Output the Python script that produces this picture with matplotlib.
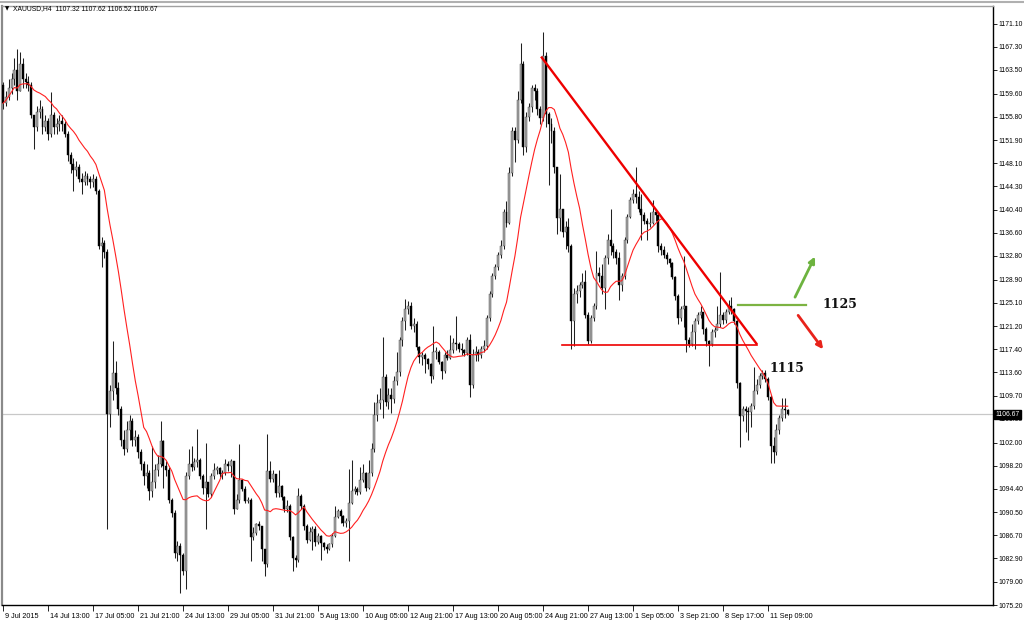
import matplotlib
matplotlib.use("Agg")
import matplotlib.pyplot as plt
import matplotlib.transforms as mtransforms
import numpy as np
import pandas as pd

# ---------------- data (XAUUSD H4) ----------------
first_open = 1161.0
closes = [
    1158.0, 1159.0, 1160.5, 1162.0, 1163.5, 1160.0, 1164.5, 1162.0, 1161.5, 1161.0,
    1156.0, 1154.0, 1156.5, 1157.0, 1154.0, 1155.0, 1153.0, 1156.0, 1154.0, 1154.5,
    1155.0, 1154.5, 1153.0, 1149.5, 1148.0, 1147.0, 1147.5, 1145.5, 1145.0, 1146.0,
    1145.5, 1145.0, 1145.5, 1143.5, 1134.5, 1135.0, 1133.5, 1106.7,
    1110.5, 1113.5, 1111.0, 1107.5, 1102.5, 1101.0, 1104.0, 1105.5, 1102.5, 1103.0,
    1100.5, 1098.5, 1096.5, 1097.0, 1094.0, 1095.5, 1097.5, 1098.5,
    1102.2, 1098.2, 1097.5, 1092.6, 1090.4, 1083.8, 1085.0, 1083.5, 1080.8, 1096.5,
    1098.5, 1098.0, 1098.8, 1099.2, 1096.5, 1094.5, 1095.5, 1093.5, 1096.5, 1097.5,
    1097.8, 1096.8, 1097.0, 1098.5, 1098.2, 1098.9, 1091.0, 1092.5, 1095.8, 1094.3,
    1092.3, 1092.6, 1086.4, 1087.0, 1088.5, 1088.2, 1084.4, 1082.0, 1097.3, 1096.0,
    1096.8, 1093.7, 1094.9, 1093.0, 1091.0, 1091.6, 1086.4, 1083.0, 1082.7, 1093.2,
    1091.5, 1088.2, 1086.0, 1087.2, 1087.8, 1085.6, 1086.6, 1085.5, 1084.7, 1084.5,
    1085.2, 1086.6, 1089.8, 1090.7, 1089.9, 1088.8, 1089.0, 1092.0, 1094.0, 1094.3,
    1093.8, 1095.9, 1097.0, 1094.5, 1097.0,
    1101.0, 1106.5, 1108.5, 1109.0, 1112.8, 1108.7, 1109.8, 1109.2, 1112.2, 1113.6,
    1119.0, 1122.0, 1124.0, 1124.5, 1121.3, 1121.5, 1117.7, 1116.2, 1116.5, 1115.8,
    1115.0, 1113.0, 1116.9, 1117.0, 1115.3, 1113.8, 1116.4, 1116.0, 1117.3, 1118.5,
    1118.3, 1117.5, 1117.2, 1116.8, 1119.0,
    1111.5, 1116.5, 1117.0, 1116.5, 1117.5, 1118.0, 1122.5, 1126.5, 1129.5, 1131.0,
    1133.0, 1134.5, 1140.0, 1138.3, 1146.5, 1153.5, 1152.0, 1158.5, 1164.5, 1150.7,
    1155.8, 1157.3, 1160.6, 1160.0, 1157.0, 1155.5, 1165.8, 1156.3, 1154.5, 1153.5,
    1147.5, 1139.0, 1140.5, 1136.8,
    1137.5, 1134.5, 1122.1, 1126.5, 1127.0, 1128.0, 1128.5, 1123.0, 1118.8, 1122.5,
    1124.5, 1130.0, 1129.5, 1127.5, 1132.5, 1135.5, 1134.5, 1133.5, 1132.5, 1128.0,
    1129.5, 1135.5, 1139.2, 1142.0, 1143.0, 1142.5, 1140.5, 1139.5, 1138.5, 1138.0,
    1138.3, 1140.0, 1139.5, 1134.5, 1133.8, 1133.0, 1132.3, 1131.6, 1129.3, 1126.2,
    1122.5, 1124.0, 1124.5, 1119.0, 1118.3, 1120.3, 1122.0, 1123.0, 1123.5, 1120.8,
    1118.7, 1118.3, 1120.3, 1120.6, 1121.5, 1123.0, 1122.3, 1123.5, 1124.5, 1124.0,
    1122.1, 1111.8, 1106.4, 1107.5, 1107.2, 1107.0, 1108.0, 1110.5, 1111.5, 1113.0,
    1113.5, 1112.5, 1109.6, 1101.5, 1100.5, 1104.0, 1106.0, 1107.5, 1107.32, 1106.67,
]
highs = [
    1161.5, 1160.0, 1162.0, 1163.0, 1165.5, 1167.0, 1166.5, 1165.5, 1163.0, 1162.5,
    1161.5, 1156.0, 1157.5, 1158.5, 1157.5, 1156.0, 1155.5, 1159.8, 1156.5, 1155.5,
    1156.0, 1156.0, 1155.0, 1153.5, 1150.0, 1149.0, 1148.5, 1148.0, 1146.5, 1146.8,
    1146.5, 1146.0, 1146.3, 1146.0, 1143.8, 1136.0, 1135.5, 1134.0,
    1111.5, 1118.7, 1115.5, 1112.0, 1108.0, 1104.0, 1105.5, 1106.5, 1106.0, 1104.0,
    1103.5, 1101.0, 1099.0, 1098.5, 1097.5, 1101.5, 1098.5, 1100.0,
    1105.5, 1102.5, 1099.0, 1098.0, 1092.8, 1090.8, 1085.8, 1085.5, 1083.8, 1097.2,
    1100.9, 1101.4, 1099.5, 1104.2, 1099.5, 1096.8, 1102.0, 1095.5, 1097.0, 1098.7,
    1098.2, 1098.0, 1097.5, 1099.3, 1099.0, 1099.3, 1099.0, 1093.5, 1101.7, 1096.0,
    1094.8, 1093.0, 1092.8, 1088.0, 1088.8, 1089.0, 1088.3, 1084.5, 1103.4, 1098.9,
    1097.5, 1096.9, 1097.5, 1095.0, 1093.2, 1092.5, 1091.8, 1086.6, 1083.5, 1094.5,
    1093.5, 1091.8, 1088.5, 1088.0, 1088.3, 1088.2, 1087.0, 1086.8, 1085.6, 1085.2,
    1085.5, 1087.0, 1091.5, 1091.0, 1091.0, 1090.0, 1089.5, 1097.6, 1099.2, 1094.8,
    1094.6, 1097.9, 1098.5, 1097.2, 1099.2,
    1102.0, 1108.7, 1110.0, 1111.0, 1119.4, 1113.3, 1111.0, 1111.0, 1113.0, 1116.9,
    1119.5, 1122.8, 1125.7, 1125.4, 1125.2, 1122.5, 1122.0, 1117.9, 1117.0, 1116.8,
    1116.0, 1115.2, 1121.3, 1117.8, 1117.2, 1115.5, 1117.0, 1117.2, 1119.8, 1119.2,
    1122.9, 1118.6, 1118.5, 1117.5, 1119.5,
    1120.0, 1117.5, 1118.0, 1117.5, 1118.0, 1119.0, 1123.0, 1127.0, 1130.0, 1131.5,
    1133.5, 1135.5, 1140.5, 1141.9, 1147.5, 1154.0, 1154.0, 1160.0, 1168.0, 1165.0,
    1156.5, 1158.0, 1161.0, 1161.2, 1160.5, 1157.5, 1169.8, 1166.5, 1156.5, 1155.5,
    1154.0, 1147.5, 1146.3, 1140.5,
    1138.5, 1139.0, 1134.8, 1127.5, 1128.0, 1128.5, 1130.0, 1130.5, 1123.5, 1123.0,
    1125.0, 1133.7, 1131.0, 1131.5, 1133.0, 1136.5, 1140.5, 1135.0, 1134.0, 1133.5,
    1130.0, 1136.0, 1139.8, 1142.5, 1143.9, 1147.4, 1143.5, 1143.0, 1140.0, 1139.0,
    1140.0, 1142.0, 1140.5, 1140.0, 1135.0, 1134.5, 1133.5, 1132.5, 1131.8, 1129.5,
    1126.5, 1124.5, 1132.8, 1124.5, 1119.5, 1121.5, 1122.5, 1123.5, 1124.5, 1123.5,
    1121.0, 1119.0, 1120.8, 1121.0, 1124.5, 1130.1, 1123.5, 1124.0, 1125.5, 1126.0,
    1124.2, 1122.3, 1112.0, 1108.0, 1108.0, 1107.8, 1108.5, 1114.4, 1112.5, 1113.5,
    1114.0, 1114.0, 1112.8, 1109.8, 1103.0, 1105.0, 1106.5, 1109.3, 1109.3, 1107.62,
]
lows = [
    1157.0, 1157.5, 1158.5, 1159.5, 1161.0, 1158.5, 1160.0, 1160.5, 1160.5, 1160.0,
    1155.5, 1150.5, 1153.5, 1155.5, 1153.0, 1153.5, 1152.0, 1152.5, 1153.0, 1153.0,
    1153.5, 1153.5, 1152.5, 1148.5, 1146.5, 1143.5, 1146.0, 1145.0, 1143.0, 1144.5,
    1144.5, 1144.0, 1144.2, 1143.0, 1134.0, 1131.0, 1132.5, 1087.8,
    1104.5, 1109.0, 1110.0, 1106.5, 1101.5, 1100.0, 1100.5, 1102.5, 1101.5, 1101.5,
    1099.5, 1097.5, 1095.0, 1094.5, 1092.5, 1093.0, 1094.5, 1096.5,
    1098.0, 1094.5, 1096.5, 1092.0, 1089.8, 1083.0, 1082.4, 1077.2, 1080.2, 1077.8,
    1096.0, 1097.3, 1097.5, 1098.0, 1096.0, 1093.5, 1087.7, 1093.0, 1093.0, 1096.0,
    1096.8, 1096.3, 1096.0, 1096.6, 1097.3, 1096.4, 1090.2, 1091.0, 1092.0, 1094.0,
    1092.0, 1092.0, 1082.5, 1086.0, 1086.8, 1087.5, 1082.5, 1080.0, 1081.5, 1095.5,
    1095.5, 1093.0, 1093.0, 1092.5, 1090.5, 1090.5, 1086.0, 1080.8, 1081.5, 1082.3,
    1091.0, 1087.5, 1085.5, 1085.8, 1084.3, 1085.0, 1085.3, 1082.7, 1084.2, 1083.8,
    1084.2, 1084.8, 1086.4, 1089.5, 1088.8, 1088.2, 1088.0, 1082.5, 1091.8, 1093.5,
    1093.4, 1093.5, 1095.5, 1094.0, 1094.3,
    1096.5, 1100.5, 1105.5, 1107.5, 1106.1, 1108.0, 1107.6, 1106.9, 1108.5, 1111.5,
    1113.0, 1118.0, 1120.5, 1123.2, 1120.8, 1120.3, 1117.2, 1115.1, 1114.8, 1113.5,
    1114.2, 1111.9, 1112.5, 1115.8, 1115.0, 1112.5, 1113.5, 1115.6, 1115.8, 1116.8,
    1117.3, 1117.0, 1116.5, 1116.3, 1116.5,
    1109.5, 1111.0, 1115.5, 1115.5, 1116.0, 1117.0, 1117.5, 1122.0, 1126.0, 1129.0,
    1130.5, 1132.5, 1134.0, 1137.5, 1138.0, 1146.0, 1148.3, 1151.5, 1158.0, 1149.4,
    1150.0, 1155.0, 1156.5, 1158.5, 1156.0, 1154.5, 1155.0, 1154.0, 1144.5, 1151.5,
    1146.5, 1136.5, 1137.0, 1136.0,
    1134.0, 1133.5, 1117.4, 1118.0, 1125.0, 1126.0, 1127.5, 1122.5, 1118.2, 1118.5,
    1122.0, 1124.0, 1128.5, 1126.5, 1124.0, 1131.5, 1133.0, 1132.5, 1131.5, 1125.5,
    1127.0, 1129.0, 1135.0, 1139.0, 1141.5, 1141.5, 1140.0, 1135.5, 1138.0, 1135.5,
    1137.5, 1138.0, 1138.5, 1133.5, 1133.0, 1132.5, 1131.5, 1131.0, 1129.0, 1125.5,
    1121.5, 1122.0, 1121.0, 1117.0, 1117.8, 1118.0, 1117.5, 1121.5, 1122.5, 1120.0,
    1118.0, 1114.7, 1118.0, 1119.5, 1120.5, 1121.0, 1121.5, 1121.8, 1123.2, 1123.2,
    1121.5, 1111.0, 1101.2, 1105.5, 1103.8, 1102.5, 1104.5, 1107.5, 1110.0, 1111.0,
    1112.5, 1112.0, 1109.0, 1098.7, 1098.7, 1100.0, 1103.5, 1105.5, 1106.0, 1106.52,
]
ma_period = 14

x_tick_bars = [0, 16, 32, 48, 64, 80, 96, 112, 128, 144, 160, 176, 192, 208, 224, 240, 256, 272]
x_tick_labels = ["9 Jul 2015", "14 Jul 13:00", "17 Jul 05:00", "21 Jul 21:00", "24 Jul 13:00",
                 "29 Jul 05:00", "31 Jul 21:00", "5 Aug 13:00", "10 Aug 05:00", "12 Aug 21:00",
                 "17 Aug 13:00", "20 Aug 05:00", "24 Aug 21:00", "27 Aug 13:00", "1 Sep 05:00",
                 "3 Sep 21:00", "8 Sep 17:00", "11 Sep 09:00"]
y_ticks = [1171.10, 1167.30, 1163.50, 1159.60, 1155.80, 1151.90, 1148.10, 1144.30, 1140.40,
           1136.60, 1132.80, 1128.90, 1125.10, 1121.20, 1117.40, 1113.60, 1109.70, 1105.90,
           1102.00, 1098.20, 1094.40, 1090.50, 1086.70, 1082.90, 1079.00, 1075.20]
last_price = 1106.67
header = "XAUUSD,H4  1107.32 1107.62 1106.52 1106.67"

# drawn objects (bar index, price)
trend_line = [(191.3, 1165.7), (268.1, 1118.2)]
support_line = [(198.8, 1118.1), (268.1, 1118.1)]
green_level = [(261.3, 1124.7), (285.5, 1124.7)]
green_arrow = [(281.6, 1126.0), (288.7, 1132.7)]
red_arrow = [(282.7, 1123.0), (291.6, 1117.4)]
labels_txt = [("1125", 291.2, 1124.8), ("1115", 272.7, 1114.3)]

# ---------------- figure ----------------
plt.rcParams['font.family'] = ['Liberation Sans', 'DejaVu Sans']
W, H = 1024, 623
fig = plt.figure(figsize=(W / 100, H / 100), dpi=100)
fig.patch.set_facecolor('white')
ax = fig.add_axes([2 / W, 18 / H, 991 / W, 599 / H])
ax.set_facecolor('white')

c = np.array(closes)
hi = np.array(highs)
lo = np.array(lows)
o = np.array([first_open] + closes[:-1])
x = np.arange(len(c))
ma = pd.Series(c).rolling(ma_period, min_periods=1).mean().values

# current price line
ax.axhline(last_price, color='#c8c8c8', lw=0.9, zorder=1)

# wicks
ax.vlines(x, lo, hi, color='#202020', lw=0.75, zorder=2)
# bodies
bull = c >= o
body_h = np.maximum(np.abs(c - o), 0.18)
body_b = np.minimum(c, o)
ax.bar(x[bull], body_h[bull], bottom=body_b[bull], width=0.7,
       color='#a8a8a8', edgecolor='#3a3a3a', linewidth=0.3, zorder=3)
ax.bar(x[~bull], body_h[~bull], bottom=body_b[~bull], width=0.7,
       color='#000000', edgecolor='#000000', linewidth=0.3, zorder=3)

# moving average
ax.plot(x, ma, color='#ff2020', lw=0.8, zorder=4)

# drawn objects
(tx0, ty0), (tx1, ty1) = trend_line
ax.plot([tx0, tx1], [ty0, ty1], color='#ee0000', lw=1.7, zorder=5, solid_capstyle='butt')
(sx0, sy0), (sx1, sy1) = support_line
ax.plot([sx0, sx1], [sy0, sy1], color='#ee0000', lw=1.2, zorder=5)
(gx0, gy0), (gx1, gy1) = green_level
ax.plot([gx0, gx1], [gy0, gy1], color='#7cb342', lw=1.6, zorder=5)
ax.annotate('', xy=green_arrow[1], xytext=green_arrow[0],
            arrowprops=dict(arrowstyle='-|>', color='#6db33f', lw=2.0, mutation_scale=9,
                            shrinkA=0, shrinkB=0), zorder=6)
ax.annotate('', xy=red_arrow[1], xytext=red_arrow[0],
            arrowprops=dict(arrowstyle='-|>', color='#e8231b', lw=2.0, mutation_scale=9,
                            shrinkA=0, shrinkB=0), zorder=6)
for txt, bx, py in labels_txt:
    ax.text(bx, py, txt, family='DejaVu Serif', fontweight='bold', fontsize=9,
            color='#111111', ha='left', va='center', zorder=7)

# axes limits / ticks
ax.set_xlim(-0.4, 352.0)
ax.set_ylim(1075.2, 1174.05)

ax.yaxis.tick_right()
ax.set_yticks(y_ticks)
ax.set_yticklabels([f"{v:.2f}" for v in y_ticks])
ax.tick_params(axis='y', which='both', direction='out', length=3, width=0.6,
               labelsize=4.9, pad=1.2, colors='#000000')
ax.set_xticks(x_tick_bars)
ax.set_xticklabels(x_tick_labels, ha='left')
ax.tick_params(axis='x', which='both', direction='out', length=4, width=0.6,
               labelsize=5.2, pad=1.5, colors='#000000')
offset = mtransforms.ScaledTranslation(1.5 / 100, 0, fig.dpi_scale_trans)
for lab in ax.get_xticklabels():
    lab.set_transform(lab.get_transform() + offset)

for side in ['right', 'bottom']:
    ax.spines[side].set_color('#000000')
    ax.spines[side].set_linewidth(1.0)
ax.spines['left'].set_color('#8a8a8a')
ax.spines['left'].set_linewidth(1.6)
ax.spines['top'].set_color('#a0a0a0')
ax.spines['top'].set_linewidth(1.0)

# price label box
trans = mtransforms.blended_transform_factory(ax.transAxes, ax.transData)
ax.text(1.0025, last_price, f"{last_price:.2f}", transform=trans, fontsize=4.9,
        color='white', ha='left', va='center', zorder=8, clip_on=False,
        bbox=dict(boxstyle='square,pad=0.15', facecolor='black', edgecolor='black'))

# header
fig.text(5 / W, 1 - 9 / H, "\u25bc", fontsize=4, color='#000000', va='center',
         family='DejaVu Sans')
fig.text(13 / W, 1 - 9 / H, header, fontsize=4.9, color='#000000', va='center')

# window border strip at top
fig.add_artist(plt.Line2D([0, 1], [1 - 2 / H, 1 - 2 / H], transform=fig.transFigure,
                          color='#b0b0b0', lw=1.5))

fig.savefig('out.png', dpi=100, facecolor='white')
